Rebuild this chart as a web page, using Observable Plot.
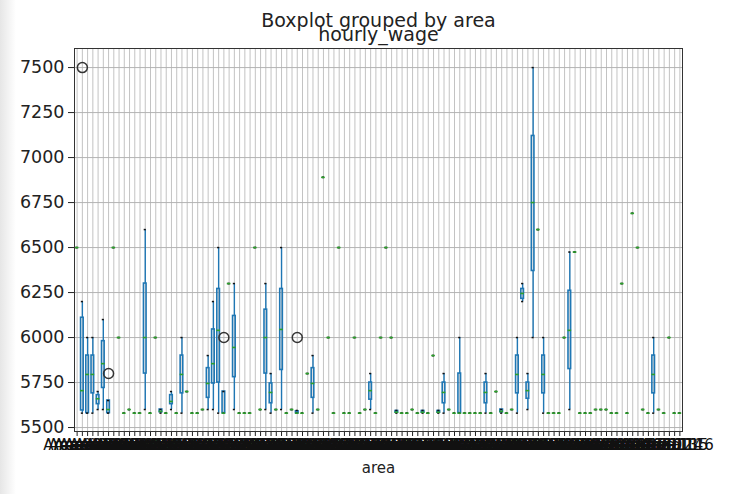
<!DOCTYPE html>
<html>
<head>
<meta charset="utf-8">
<script src="https://cdn.jsdelivr.net/npm/d3@7"></script>
<script src="https://cdn.jsdelivr.net/npm/@observablehq/plot@0.6"></script>
<style>
  html, body { margin: 0; padding: 0; }
  body { background: linear-gradient(to right, #e6e6e6 0px, #ffffff 16px); width: 734px; height: 494px; overflow: hidden; }
</style>
</head>
<body>
<div id="chart"></div>
<script>
// ---- data ----
const areas = Array.from({length: 116}, (_, i) => "Area " + String(i + 1).padStart(3, "0"));

const lo = [
  6500,5580,5580,5580,5600,5600,5580,6500,6000,5580,
  5600,5580,5580,5600,5580,6000,5580,5580,5600,5580,
  5580,5700,5580,5580,5600,5600,5600,5580,5580,6300,
  5600,5580,5580,5580,6500,5600,5600,5580,5600,5600,
  5580,5600,5580,5580,5800,5580,5600,6890,6000,5580,
  6500,5580,5580,6000,5580,5600,5600,5580,6000,6500,
  6000,5580,5580,5580,5600,5580,5580,5580,5900,5580,
  5580,5600,5580,5580,5580,5580,5580,5580,5580,5580,
  5700,5580,5580,5600,5580,6200,5600,6000,6600,5580,
  5580,5580,5580,6000,5600,6475,5580,5580,5580,5600,
  5600,5600,5580,5580,6300,5580,6690,6500,5600,5580,
  5580,5600,5580,6000,5580,5580
];
const q1 = [
  6500,5595,5580,5690,5630,5720,5580,6500,6000,5580,
  5600,5580,5580,5800,5580,6000,5585,5580,5630,5580,
  5690,5700,5580,5580,5600,5665,5745,5750,5580,6300,
  5780,5580,5580,5580,6500,5600,5800,5635,5600,5820,
  5580,5600,5580,5580,5800,5665,5600,6890,6000,5580,
  6500,5580,5580,6000,5580,5600,5655,5580,6000,6500,
  6000,5583,5580,5580,5600,5580,5583,5580,5900,5583,
  5635,5600,5580,5580,5580,5580,5580,5580,5635,5580,
  5700,5585,5580,5600,5690,6215,5660,6370,6600,5690,
  5580,5580,5580,6000,5825,6475,5580,5580,5580,5600,
  5600,5600,5580,5580,6300,5580,6690,6500,5600,5580,
  5690,5600,5580,6000,5580,5580
];
const med = [
  6500,5705,5795,5795,5660,5855,5600,6500,6000,5580,
  5600,5580,5580,6000,5580,6000,5590,5580,5645,5580,
  5795,5700,5580,5580,5600,5745,5855,6040,5580,6300,
  5945,5580,5580,5580,6500,5600,6000,5695,5600,6045,
  5580,5600,5580,5580,5800,5745,5600,6890,6000,5580,
  6500,5580,5580,6000,5580,5600,5705,5580,6000,6500,
  6000,5585,5580,5580,5600,5580,5585,5580,5900,5585,
  5695,5600,5580,5580,5580,5580,5580,5580,5695,5580,
  5700,5590,5580,5600,5795,6245,5705,6750,6600,5795,
  5580,5580,5580,6000,6040,6475,5580,5580,5580,5600,
  5600,5600,5580,5580,6300,5580,6690,6500,5600,5580,
  5795,5600,5580,6000,5580,5580
];
const q3 = [
  6500,6110,5900,5900,5680,5980,5650,6500,6000,5580,
  5600,5580,5580,6300,5580,6000,5600,5580,5680,5580,
  5900,5700,5580,5580,5600,5830,6045,6270,5700,6300,
  6120,5580,5580,5580,6500,5600,6155,5745,5600,6270,
  5580,5600,5590,5580,5800,5830,5600,6890,6000,5580,
  6500,5580,5580,6000,5580,5600,5750,5580,6000,6500,
  6000,5592,5580,5580,5600,5580,5592,5580,5900,5592,
  5750,5600,5580,5800,5580,5580,5580,5580,5750,5580,
  5700,5600,5580,5600,5900,6270,5750,7120,6600,5900,
  5580,5580,5580,6000,6260,6475,5580,5580,5580,5600,
  5600,5600,5580,5580,6300,5580,6690,6500,5600,5580,
  5900,5600,5580,6000,5580,5580
];
const hi = [
  6500,6200,6000,6000,5700,6100,5650,6500,6000,5580,
  5600,5580,5580,6600,5580,6000,5600,5580,5700,5580,
  6000,5700,5580,5580,5600,5900,6200,6500,5700,6300,
  6300,5580,5580,5580,6500,5600,6300,5800,5600,6500,
  5580,5600,5595,5580,5800,5900,5600,6890,6000,5580,
  6500,5580,5580,6000,5580,5600,5800,5580,6000,6500,
  6000,5595,5580,5580,5600,5580,5595,5580,5900,5595,
  5800,5600,5580,6000,5580,5580,5580,5580,5800,5580,
  5700,5600,5580,5600,6000,6300,5800,7500,6600,6000,
  5580,5580,5580,6000,6475,6475,5580,5580,5580,5600,
  5600,5600,5580,5580,6300,5580,6690,6500,5600,5580,
  6000,5600,5580,6000,5580,5580
];
const outlierIndex = [1, 6, 28, 42];
const outlierValue = [7500, 5800, 6000, 6000];
const yTicks = [5500, 5750, 6000, 6250, 6500, 6750, 7000, 7250, 7500];

// ---- build tables ----
const rows = areas.map((a, i) => ({area: a, lo: lo[i], q1: q1[i], med: med[i], q3: q3[i], hi: hi[i]}));
const outs = outlierIndex.map((k, j) => ({area: areas[k], v: outlierValue[j]}));

const W = 734, H = 494;
const mL = 74, mR = 52, mT = 48, mB = 63;
const bw = (W - mL - mR) / areas.length;
const blue = "#1f77b4", green = "#2ca02c";

const chart = Plot.plot({
  width: W, height: H,
  marginLeft: mL, marginRight: mR, marginTop: mT, marginBottom: mB,
  style: {fontFamily: "DejaVu Sans, sans-serif", color: "#222", background: "transparent"},
  x: {type: "band", domain: areas, padding: 0, round: false, label: null, axis: null},
  y: {domain: [5478, 7606], label: null, axis: null},
  marks: [
    Plot.gridX(areas, {x: d => d, stroke: "#b0b0b0", strokeOpacity: 0.85, strokeWidth: 0.9}),
    Plot.gridY(yTicks, {y: d => d, stroke: "#b0b0b0", strokeOpacity: 0.95, strokeWidth: 1}),
    Plot.axisY(yTicks, {tickSize: 6, tickPadding: 4, fontSize: 17.5, tickFormat: d => String(d), stroke: "#222", fill: "#222", label: null}),
    Plot.axisX(areas, {tickSize: 5, tickPadding: 3, fontSize: 15, stroke: "#222", fill: "#111", label: null}),
    Plot.ruleX(rows, {x: "area", y1: "lo", y2: "q1", stroke: blue, strokeWidth: 1.4}),
    Plot.ruleX(rows, {x: "area", y1: "q3", y2: "hi", stroke: blue, strokeWidth: 1.4}),
    Plot.barY(rows, {x: "area", y1: "q1", y2: "q3", fill: "none", stroke: blue, strokeWidth: 1.6,
      insetLeft: bw * 0.25, insetRight: bw * 0.25}),
    Plot.tickY(rows, {x: "area", y: "lo", stroke: "#111", strokeWidth: 1.5, insetLeft: bw * 0.3, insetRight: bw * 0.3}),
    Plot.tickY(rows, {x: "area", y: "hi", stroke: "#111", strokeWidth: 1.5, insetLeft: bw * 0.3, insetRight: bw * 0.3}),
    Plot.tickY(rows, {x: "area", y: "med", stroke: green, strokeWidth: 1.6, insetLeft: bw * 0.15, insetRight: bw * 0.15}),
    Plot.dot(outs, {x: "area", y: "v", r: 5, stroke: "#333", strokeWidth: 1.5, fill: "none"}),
    Plot.frame({stroke: "#333", strokeWidth: 1}),
    Plot.text(["Boxplot grouped by area"], {frameAnchor: "top", lineAnchor: "middle", dy: -28, fontSize: 19, fill: "#222"}),
    Plot.text(["hourly_wage"], {frameAnchor: "top", lineAnchor: "middle", dy: -14, fontSize: 19, fill: "#222"}),
    Plot.text(["area"], {frameAnchor: "bottom", lineAnchor: "middle", dy: 37, fontSize: 15, fill: "#222"})
  ]
});
document.getElementById("chart").appendChild(chart);
</script>
</body>
</html>
